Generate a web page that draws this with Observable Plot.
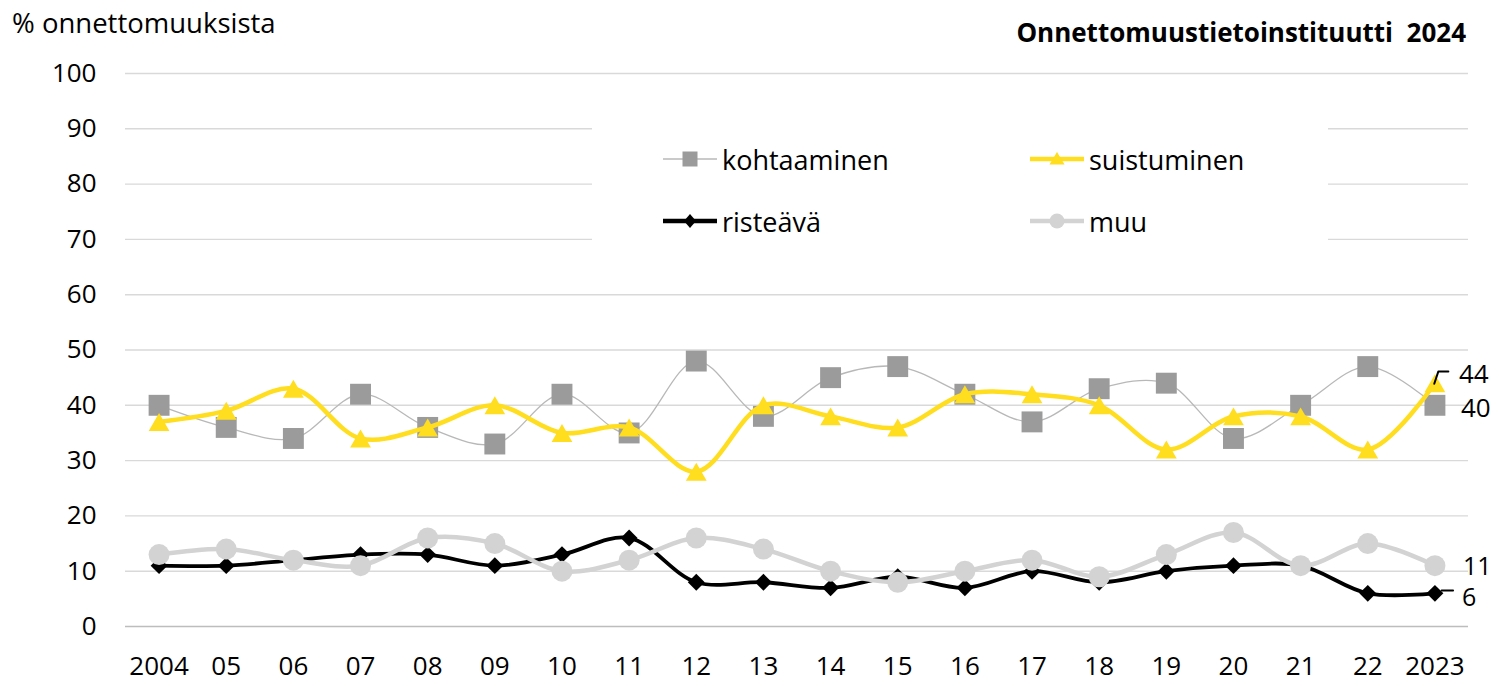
<!DOCTYPE html>
<html><head><meta charset="utf-8">
<script src="https://cdn.jsdelivr.net/npm/d3@7"></script>
<script src="https://cdn.jsdelivr.net/npm/@observablehq/plot@0.6"></script>
<style>
body{margin:0;background:#fff;font-family:"Open Sans",sans-serif;}
#wrap{position:relative;width:1499px;height:686px;overflow:hidden;}
#wrap > svg{position:absolute;left:0;top:0;}
.t{position:absolute;white-space:nowrap;color:#000;line-height:1;}
#legend{position:absolute;left:592px;top:124px;width:736px;height:122px;background:#fff;}
.item{position:absolute;display:flex;align-items:center;height:40px;transform:translateY(-50%);}
.item span{font-size:27px;line-height:1;margin-left:5px;}
</style></head><body>
<div id="wrap">
  <div class="t" style="left:12px;top:9px;font-size:27.5px;">% onnettomuuksista</div>
  <div class="t" style="right:33px;top:19px;font-size:26px;font-weight:bold;">Onnettomuustietoinstituutti&nbsp; 2024</div>
</div>
<script>
const years = [2004,2005,2006,2007,2008,2009,2010,2011,2012,2013,2014,2015,2016,2017,2018,2019,2020,2021,2022,2023];
const xLabels = ["2004","05","06","07","08","09","10","11","12","13","14","15","16","17","18","19","20","21","22","2023"];
const seriesNames = ["kohtaaminen","suistuminen","risteävä","muu"];
const kohtaaminen = [40,36,34,42,36,33,42,35,48,38,45,47,42,37,43,44,34,40,47,40];
const suistuminen = [37,39,43,34,36,40,35,36,28,40,38,36,42,42,40,32,38,38,32,44];
const risteava    = [11,11,12,13,13,11,13,16,8,8,7,9,7,10,8,10,11,11,6,6];
const muu         = [13,14,12,11,16,15,10,12,16,14,10,8,10,12,9,13,17,11,15,11];
const yTicks = [0,10,20,30,40,50,60,70,80,90,100];

const rows = vals => years.map((year, i) => ({year, value: vals[i]}));
const kRows = rows(kohtaaminen), sRows = rows(suistuminen), rRows = rows(risteava), mRows = rows(muu);
const last = arr => [{year: years[years.length-1], value: arr[arr.length-1]}];
const labelFmt = d => xLabels[years.indexOf(d)];

const C = {k:"#9b9b9b", kLine:"#b8b8b8", s:"#ffdd1f", r:"#000000", m:"#d3d3d3"};

// leader line for the 44 label (offsets in data units from the last point)
const sLast = last(suistuminen)[0];
const leader44 = [
  {year: sLast.year - 0.01, value: sLast.value - 0.1},
  {year: sLast.year + 0.05, value: sLast.value + 2.1},
  {year: sLast.year + 0.2, value: sLast.value + 2.1}
];
const rLast = last(risteava)[0];
const leader6 = [
  {year: rLast.year + 0.1, value: rLast.value + 0.5},
  {year: rLast.year + 0.27, value: rLast.value + 0.5}
];

const chart = Plot.plot({
  width: 1499, height: 686,
  marginLeft: 125, marginRight: 31, marginTop: 73, marginBottom: 60,
  style: {fontFamily: "'Open Sans', sans-serif", color: "#000", background: "transparent"},
  x: {type: "linear", domain: [2003.5, 2023.5]},
  y: {domain: [0, 100]},
  marks: [
    Plot.gridY(yTicks.slice(1), {stroke: "#d9d9d9", strokeOpacity: 1, strokeWidth: 1.4}),
    Plot.ruleY([0], {stroke: "#bdbdbd", strokeWidth: 1.6}),
    Plot.axisY(yTicks, {tickSize: 0, tickPadding: 29, fontSize: 26, label: null}),
    Plot.axisX(years, {tickSize: 0, tickPadding: 30, fontSize: 26, label: null, tickFormat: labelFmt}),
    Plot.line(kRows, {x: "year", y: "value", curve: "catmull-rom", stroke: C.kLine, strokeWidth: 1.3}),
    Plot.dot(kRows, {x: "year", y: "value", symbol: "square", r: 11.8, fill: C.k}),
    Plot.line(sRows, {x: "year", y: "value", curve: "catmull-rom", stroke: C.s, strokeWidth: 4.5}),
    Plot.dot(sRows, {x: "year", y: "value", symbol: "triangle", r: 7.7, fill: C.s, dy: 3}),
    Plot.line(rRows, {x: "year", y: "value", curve: "catmull-rom", stroke: C.r, strokeWidth: 3.8}),
    Plot.dot(rRows, {x: "year", y: "value", symbol: "diamond2", r: 7.6, fill: C.r}),
    Plot.line(mRows, {x: "year", y: "value", curve: "catmull-rom", stroke: C.m, strokeWidth: 4.5}),
    Plot.dot(mRows, {x: "year", y: "value", symbol: "circle", r: 10.5, fill: C.m}),
    Plot.line(leader44, {x: "year", y: "value", stroke: "#000", strokeWidth: 2}),
    Plot.line(leader6, {x: "year", y: "value", stroke: "#000", strokeWidth: 2}),
    Plot.text(last(suistuminen), {x: "year", y: "value", text: d => String(d.value), textAnchor: "start", dx: 24, dy: -9, fontSize: 26}),
    Plot.text(last(kohtaaminen), {x: "year", y: "value", text: d => String(d.value), textAnchor: "start", dx: 26, dy: 3, fontSize: 26}),
    Plot.text(last(muu), {x: "year", y: "value", text: d => String(d.value), textAnchor: "start", dx: 28, dy: 1, fontSize: 25}),
    Plot.text(last(risteava), {x: "year", y: "value", text: d => String(d.value), textAnchor: "start", dx: 27, dy: 5, fontSize: 25})
  ]
});
const wrap = document.getElementById("wrap");
wrap.insertBefore(chart, wrap.firstChild);

// legend
const legend = document.createElement("div");
legend.id = "legend";
wrap.appendChild(legend);
const swatch = (color, width, sym, symColor) => {
  const sz = 54, h = 24;
  let mk = "";
  if (sym === "square") mk = `<rect x="${sz/2-7.5}" y="${h/2-7.5}" width="15" height="15" fill="${symColor}"/>`;
  if (sym === "triangle") mk = `<path d="M${sz/2},${h/2-7} L${sz/2+7.5},${h/2+5.5} L${sz/2-7.5},${h/2+5.5}Z" fill="${symColor}"/>`;
  if (sym === "diamond") mk = `<path d="M${sz/2},${h/2-7} L${sz/2+6},${h/2} L${sz/2},${h/2+7} L${sz/2-6},${h/2}Z" fill="${symColor}"/>`;
  if (sym === "circle") mk = `<circle cx="${sz/2}" cy="${h/2}" r="7.5" fill="${symColor}"/>`;
  return `<svg width="${sz}" height="${h}"><line x1="0" x2="${sz}" y1="${h/2}" y2="${h/2}" stroke="${color}" stroke-width="${width}"/>${mk}</svg>`;
};
const items = [
  {name: seriesNames[0], x: 71, y: 35, sw: swatch(C.kLine, 1.5, "square", C.k)},
  {name: seriesNames[1], x: 438, y: 35, sw: swatch(C.s, 4.5, "triangle", C.s)},
  {name: seriesNames[2], x: 71, y: 97, sw: swatch(C.r, 4.5, "diamond", C.r)},
  {name: seriesNames[3], x: 438, y: 97, sw: swatch(C.m, 4.5, "circle", C.m)}
];
for (const it of items) {
  const d = document.createElement("div");
  d.className = "item";
  d.style.left = it.x + "px";
  d.style.top = it.y + "px";
  d.innerHTML = it.sw + `<span>${it.name}</span>`;
  legend.appendChild(d);
}
</script>
</body></html>
